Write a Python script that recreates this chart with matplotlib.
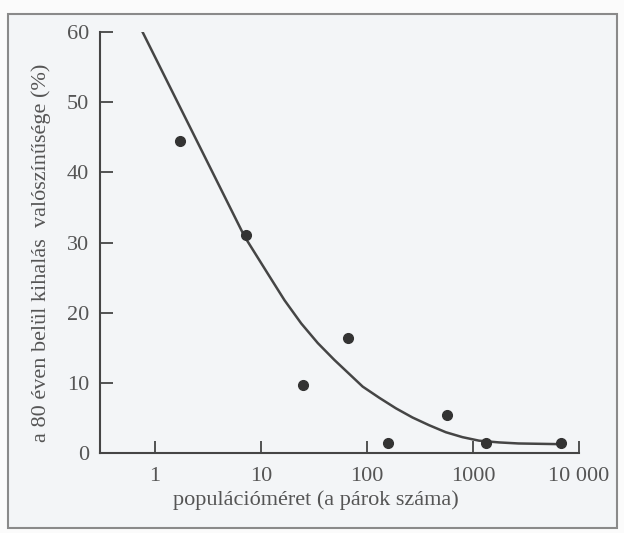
import matplotlib
matplotlib.use('Agg')
import matplotlib.pyplot as plt
from matplotlib.patches import Rectangle

plt.rcParams['font.family'] = ['Liberation Serif', 'DejaVu Serif']

# megfigyelt populációk (párok száma, kihalás valószínűsége %)
pop_size = [1.72, 7.18, 24.8, 65.8, 157, 574, 1330, 6700]
extinction = [44.5, 31.1, 9.7, 16.4, 1.5, 5.5, 1.4, 1.4]

# illesztett görbe, a képről leolvasott pontok
curve_x = [0.766, 7.0, 11.6, 16.7, 24.0, 34.4, 49.3, 91.2, 131, 188, 269, 386,
           555, 796, 1140, 1760, 2690, 6760]
curve_y = [60.0, 30.9, 25.6, 21.8, 18.5, 15.7, 13.3, 9.5, 7.9, 6.4, 5.1, 4.0,
           3.0, 2.3, 1.8, 1.55, 1.4, 1.3]

x_ticks = [1, 10, 100, 1000, 10000]
x_labels = ['1', '10', '100', '1000', '10 000']
y_ticks = [0, 10, 20, 30, 40, 50, 60]

ink = '#454545'
paper = '#f3f5f7'

fig = plt.figure(figsize=(6.24, 5.33), dpi=100)
fig.patch.set_facecolor('#fbfbfb')
frame = Rectangle((8 / 624, 1 - 528 / 533), 609 / 624, 514 / 533,
                  transform=fig.transFigure, facecolor=paper,
                  edgecolor='#8a8a8a', linewidth=1.5, zorder=-10)
fig.patches.append(frame)

ax = fig.add_axes([100 / 624, 1 - 453.3 / 533, 479 / 624, 421.3 / 533])
ax.set_facecolor('none')
ax.set_zorder(5)

ax.plot(curve_x, curve_y, color=ink, linewidth=1.8, solid_joinstyle='round')
ax.plot(pop_size, extinction, 'o', color='#333333', markersize=7)

ax.set_xscale('log')
ax.set_xlim(0.304, 10000)
ax.set_ylim(0, 60)
ax.set_xticks(x_ticks)
ax.set_xticklabels(x_labels)
ax.xaxis.set_minor_locator(matplotlib.ticker.NullLocator())
ax.set_yticks(y_ticks)

for s in ['top', 'right']:
    ax.spines[s].set_visible(False)
for s in ['left', 'bottom']:
    ax.spines[s].set_color(ink)
    ax.spines[s].set_linewidth(1.5)

ax.tick_params(axis='x', direction='in', length=8.5, width=1.3, color=ink,
               labelsize=16, labelcolor='#555555', pad=10)
ax.tick_params(axis='y', direction='in', length=9.5, width=1.3, color=ink,
               labelsize=16, labelcolor='#555555', pad=8)

ax.set_xlabel('populációméret (a párok száma)', fontsize=16, color='#555555')
ax.set_ylabel('a 80 éven belül kihalás  valószínűsége (%)', fontsize=16,
              color='#555555')
ax.xaxis.set_label_coords(0.45, -0.088)
ax.yaxis.set_label_coords(-0.103, 0.475)

fig.savefig('out.png', dpi=100, facecolor=fig.get_facecolor())
